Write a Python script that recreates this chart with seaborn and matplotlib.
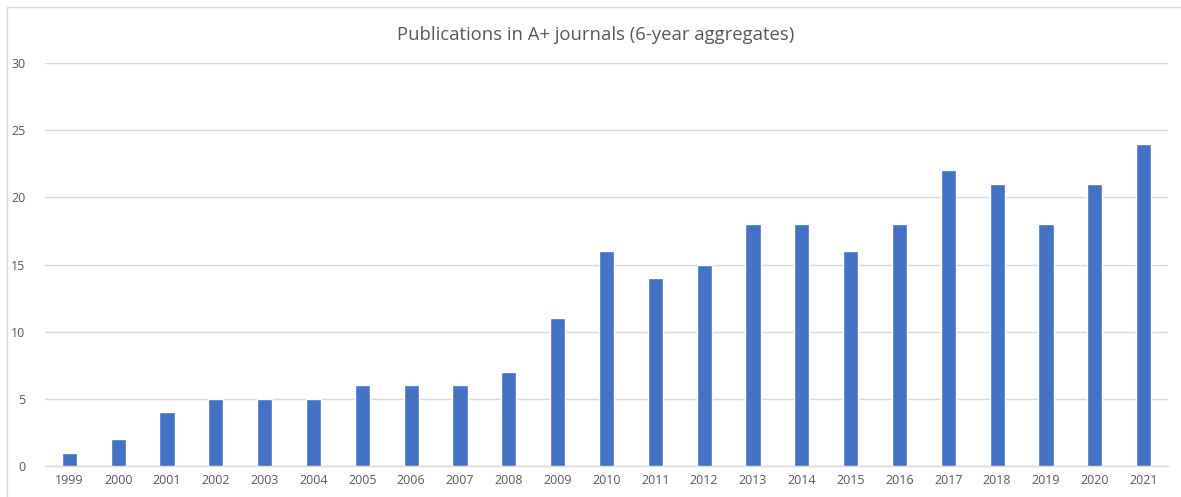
import matplotlib
matplotlib.use("Agg")
import matplotlib.pyplot as plt
import seaborn as sns
import pandas as pd
from matplotlib.lines import Line2D

years = ["1999", "2000", "2001", "2002", "2003", "2004", "2005", "2006", "2007", "2008",
         "2009", "2010", "2011", "2012", "2013", "2014", "2015", "2016", "2017", "2018",
         "2019", "2020", "2021"]
publications = [1, 2, 4, 5, 5, 5, 6, 6, 6, 7, 11, 16, 14, 15, 18, 18, 16, 18, 22, 21, 18, 21, 24]
y_ticks = [0, 5, 10, 15, 20, 25, 30]
title = "Publications in A+ journals (6-year aggregates)"

sns.set_theme(style="white")
plt.rcParams['font.family'] = ['Open Sans', 'DejaVu Sans']

df = pd.DataFrame({"year": years, "count": publications})

fig = plt.figure(figsize=(11.81, 4.97), dpi=100)
ax = fig.add_axes([45/1181, 31/497, (1168-45)/1181, (466-63)/497])

sns.barplot(data=df, x="year", y="count", color="#4472C4", width=0.31,
            saturation=1, ax=ax, zorder=3)

ax.set_ylim(0, 30)
ax.set_xlim(-0.5, len(years) - 0.5)
ax.set_yticks(y_ticks)
ax.yaxis.grid(True, color="#D9D9D9", linewidth=1.0, zorder=0)
ax.set_axisbelow(True)
for s in ["top", "right", "left"]:
    ax.spines[s].set_visible(False)
ax.spines["bottom"].set_color("#D9D9D9")
ax.spines["bottom"].set_linewidth(1.0)
ax.set_xlabel("")
ax.set_ylabel("")
ax.tick_params(axis="both", colors="#595959", labelsize=9, length=0)
ax.tick_params(axis="y", pad=14)
ax.tick_params(axis="x", pad=6)

fig.text(596/1181, 1 - 35/497, title, ha="center", va="center", fontsize=13.3, color="#595959")

# outer chart border (left and top visible)
fig.add_artist(Line2D([7/1181, 7/1181], [0, 1 - 7/497], transform=fig.transFigure,
                      color="#D9D9D9", linewidth=1.0))
fig.add_artist(Line2D([7/1181, 1], [1 - 7/497, 1 - 7/497], transform=fig.transFigure,
                      color="#D9D9D9", linewidth=1.0))

fig.savefig("out.png", dpi=100, facecolor="white")
